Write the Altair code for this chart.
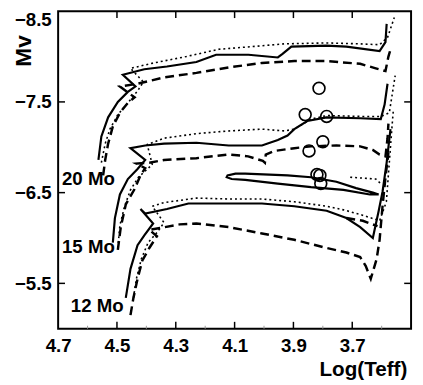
import altair as alt
import pandas as pd

FONT = "Liberation Sans"

# ---- evolutionary tracks (x = log Teff, y = Mv) ----
# 20 Mo
S20_X = [4.563, 4.553, 4.530, 4.497, 4.463, 4.437, 4.480, 4.407, 4.330, 4.230, 4.163, 4.053, 3.953, 3.937, 3.907, 3.787, 3.720, 3.607, 3.587, 3.583]
S20_Y = [-6.86, -7.12, -7.33, -7.50, -7.61, -7.67, -7.80, -7.86, -7.89, -7.94, -8.02, -8.02, -7.99, -8.03, -8.11, -8.12, -8.11, -8.06, -8.16, -8.36]
D20_X = [4.547, 4.540, 4.530, 4.514, 4.490, 4.463, 4.440, 4.490, 4.430, 4.340, 4.230, 4.120, 4.007, 3.897, 3.787, 3.673, 3.620, 3.587, 3.577, 3.567]
D20_Y = [-6.69, -6.86, -7.04, -7.23, -7.38, -7.49, -7.55, -7.67, -7.70, -7.77, -7.82, -7.88, -7.93, -7.95, -7.95, -7.92, -7.87, -7.84, -8.00, -8.11]
P20_X = [4.553, 4.540, 4.524, 4.497, 4.463, 4.430, 4.410, 4.454, 4.374, 4.264, 4.154, 4.040, 3.930, 3.787, 3.673, 3.607, 3.580, 3.557]
P20_Y = [-6.83, -7.04, -7.20, -7.36, -7.49, -7.62, -7.72, -7.87, -7.93, -8.00, -8.08, -8.11, -8.14, -8.15, -8.14, -8.13, -8.21, -8.43]

# 15 Mo
S15_X = [4.514, 4.507, 4.490, 4.463, 4.430, 4.404, 4.454, 4.404, 4.340, 4.230, 4.120, 4.007, 3.953, 3.920, 3.897, 3.853, 3.787, 3.673, 3.603, 3.590, 3.580]
S15_Y = [-5.95, -6.22, -6.48, -6.65, -6.76, -6.86, -6.99, -7.02, -7.04, -7.05, -7.02, -7.02, -7.08, -7.13, -7.20, -7.29, -7.33, -7.32, -7.31, -7.47, -7.70]
D15_X = [4.497, 4.487, 4.470, 4.440, 4.420, 4.404, 4.434, 4.390, 4.340, 4.230, 4.120, 4.054, 4.004, 3.997, 3.994, 3.964, 3.897, 3.840, 3.754, 3.673, 3.630, 3.607, 3.587, 3.580, 3.577]
D15_Y = [-5.87, -6.12, -6.37, -6.54, -6.69, -6.77, -6.82, -6.83, -6.86, -6.88, -6.92, -6.90, -6.85, -6.83, -6.92, -6.96, -6.99, -7.01, -7.02, -7.01, -6.97, -6.92, -6.90, -7.10, -7.26]
P15_X = [4.497, 4.490, 4.474, 4.454, 4.427, 4.380, 4.397, 4.340, 4.230, 4.120, 4.007, 3.930, 3.897, 3.840, 3.787, 3.673, 3.603, 3.574, 3.554]
P15_Y = [-5.89, -6.14, -6.35, -6.53, -6.67, -6.81, -7.03, -7.10, -7.15, -7.18, -7.20, -7.18, -7.20, -7.31, -7.35, -7.34, -7.34, -7.38, -7.79]

# blue loop
LOOP_X = [3.610, 3.630, 3.687, 3.754, 3.840, 3.920, 4.064, 4.097, 4.124, 4.127, 4.110, 4.064, 3.953, 3.840, 3.730, 3.640, 3.610]
LOOP_Y = [-6.48, -6.50, -6.55, -6.62, -6.67, -6.69, -6.71, -6.71, -6.69, -6.67, -6.65, -6.64, -6.60, -6.56, -6.53, -6.48, -6.48]
LOOPD_X = [3.707, 3.620, 3.600]
LOOPD_Y = [-6.67, -6.65, -6.59]

# 12 Mo
S12_X = [4.470, 4.454, 4.430, 4.407, 4.377, 4.420, 4.404, 4.330, 4.257, 4.120, 4.007, 3.897, 3.787, 3.720, 3.673, 3.630, 3.610, 3.597, 3.583, 3.570]
S12_Y = [-5.34, -5.66, -5.92, -6.03, -6.16, -6.32, -6.27, -6.32, -6.38, -6.38, -6.38, -6.35, -6.30, -6.22, -6.12, -6.00, -6.30, -6.51, -6.83, -7.20]
D12_X = [4.454, 4.444, 4.430, 4.414, 4.390, 4.364, 4.390, 4.354, 4.287, 4.230, 4.120, 4.007, 3.897, 3.787, 3.720, 3.673, 3.654, 3.637, 3.617, 3.607, 3.597, 3.587, 3.577]
D12_Y = [-5.15, -5.34, -5.55, -5.75, -5.89, -6.02, -6.09, -6.11, -6.15, -6.16, -6.12, -6.05, -5.98, -5.89, -5.84, -5.79, -5.69, -5.55, -5.77, -5.98, -6.35, -6.67, -6.94]
P12_X = [4.444, 4.434, 4.417, 4.394, 4.364, 4.340, 4.380, 4.340, 4.230, 4.120, 4.007, 3.897, 3.787, 3.730, 3.673, 3.607, 3.584, 3.574, 3.564, 3.560]
P12_Y = [-5.34, -5.55, -5.77, -5.95, -6.06, -6.17, -6.35, -6.39, -6.44, -6.43, -6.43, -6.40, -6.35, -6.31, -6.26, -6.19, -6.40, -6.83, -7.26, -7.42]
DX_X = [3.720, 3.664, 3.614]
DX_Y = [-6.22, -6.19, -6.13]

# observed stars
STAR_X = [3.813, 3.860, 3.787, 3.800, 3.847, 3.820, 3.810, 3.807]
STAR_Y = [-7.65, -7.36, -7.34, -7.06, -6.96, -6.70, -6.69, -6.60]

# mass labels
MASS_LABELS = ["20 Mo", "15 Mo", "12 Mo"]
MASS_X = [4.687, 4.687, 4.657]
MASS_Y = [-6.65, -5.90, -5.25]

# axes
X_LABELS = [4.7, 4.5, 4.3, 4.1, 3.9, 3.7]
Y_LABELS = [-8.5, -7.5, -6.5, -5.5]
X_TICKS = [4.5, 4.3, 4.1, 3.9, 3.7]
X_MINOR = [4.6, 4.4, 4.2, 4.0, 3.8, 3.6]
Y_TICKS = [-7.5, -6.5, -5.5]

W, H = 359, 323

rows = []
def add(seg, style, xs, ys):
    for i, (a, b) in enumerate(zip(xs, ys)):
        rows.append({"seg": seg, "style": style, "ord": i, "x": a, "y": b})

add("s20", "solid", S20_X, S20_Y)
add("d20", "dashed", D20_X, D20_Y)
add("p20", "dotted", P20_X, P20_Y)
add("s15", "solid", S15_X, S15_Y)
add("d15", "dashed", D15_X, D15_Y)
add("p15", "dotted", P15_X, P15_Y)
add("loop", "solid", LOOP_X, LOOP_Y)
add("loopd", "dotted", LOOPD_X, LOOPD_Y)
add("s12", "solid", S12_X, S12_Y)
add("d12", "dashed", D12_X, D12_Y)
add("p12", "dotted", P12_X, P12_Y)
add("dx", "dashed", DX_X, DX_Y)
tracks = pd.DataFrame(rows)

xscale = alt.Scale(domain=[3.5, 4.7], reverse=True, nice=False, zero=False)
yscale = alt.Scale(domain=[-8.5, -5.0], reverse=True, nice=False, zero=False)

xaxis = alt.Axis(values=X_LABELS, format=".1f", ticks=False, domain=False, grid=False,
                 labelFont=FONT, labelFontWeight="bold", labelFontSize=19, labelColor="black",
                 labelPadding=17, labelBaseline="middle", labelFlush=False, labelOverlap=False,
                 title="Log(Teff)", titleFont=FONT, titleFontWeight="bold", titleFontSize=21,
                 titleColor="black", titleX=310, titleY=42, titleAlign="center", titleBaseline="middle")
yaxis = alt.Axis(values=Y_LABELS, format=".1f", ticks=False, domain=False, grid=False,
                 labelFont=FONT, labelFontWeight="bold", labelFontSize=19, labelColor="black",
                 labelPadding=7, labelFlush=True, labelOverlap=False,
                 title="Mv", titleFont=FONT, titleFontWeight="bold", titleFontSize=23,
                 titleColor="black", titleX=-28, titleY=40, titleAngle=270,
                 titleAlign="center", titleBaseline="alphabetic")

def X():
    return alt.X("x:Q", scale=xscale, axis=xaxis)
def Y():
    return alt.Y("y:Q", scale=yscale, axis=yaxis)

def line_layer(style, **kw):
    return alt.Chart(tracks).transform_filter(alt.datum.style == style).mark_line(
        color="black", clip=True, **kw).encode(
        x=X(), y=Y(), detail="seg:N", order="ord:Q")

solid = line_layer("solid", strokeWidth=2.2)
dashed = line_layer("dashed", strokeWidth=2.5, strokeDash=[9, 5])
dotted = line_layer("dotted", strokeWidth=1.6, strokeDash=[2, 3])

stars = alt.Chart(pd.DataFrame({"x": STAR_X, "y": STAR_Y})).mark_point(
    shape="circle", filled=False, size=145, color="black", strokeWidth=1.7, opacity=1).encode(
    x=X(), y=Y())

labels = alt.Chart(pd.DataFrame({"x": MASS_X, "y": MASS_Y, "t": MASS_LABELS})).mark_text(
    align="left", baseline="middle", font=FONT, fontWeight="bold", fontSize=19, color="black").encode(
    x=X(), y=Y(), text="t:N")

xt = pd.DataFrame({"x": X_TICKS})
xm = pd.DataFrame({"x": X_MINOR})
yt = pd.DataFrame({"y": Y_TICKS})
tick_top = alt.Chart(xt).mark_rule(color="black", strokeWidth=1.5).encode(
    x=X(), y=alt.value(0), y2=alt.value(7))
tick_bot = alt.Chart(xt).mark_rule(color="black", strokeWidth=1.5).encode(
    x=X(), y=alt.value(H), y2=alt.value(H - 7))
tick_min = alt.Chart(xm).mark_rule(color="#999999", strokeWidth=1).encode(
    x=X(), y=alt.value(H), y2=alt.value(H - 3))
tick_left = alt.Chart(yt).mark_rule(color="black", strokeWidth=1.5).encode(
    y=Y(), x=alt.value(0), x2=alt.value(7))
tick_right = alt.Chart(yt).mark_rule(color="black", strokeWidth=1.5).encode(
    y=Y(), x=alt.value(W), x2=alt.value(W - 7))

chart = alt.layer(
    solid, dashed, dotted, stars, labels, tick_top, tick_bot, tick_min, tick_left, tick_right
).properties(
    width=W, height=H,
    autosize=alt.AutoSizeParams(type="none"),
    padding={"left": 51, "top": 0, "right": 4, "bottom": 54},
    background="white",
).configure_view(stroke="black", strokeWidth=2)

chart.save("out.html", embed_options={"renderer": "svg", "actions": False})
